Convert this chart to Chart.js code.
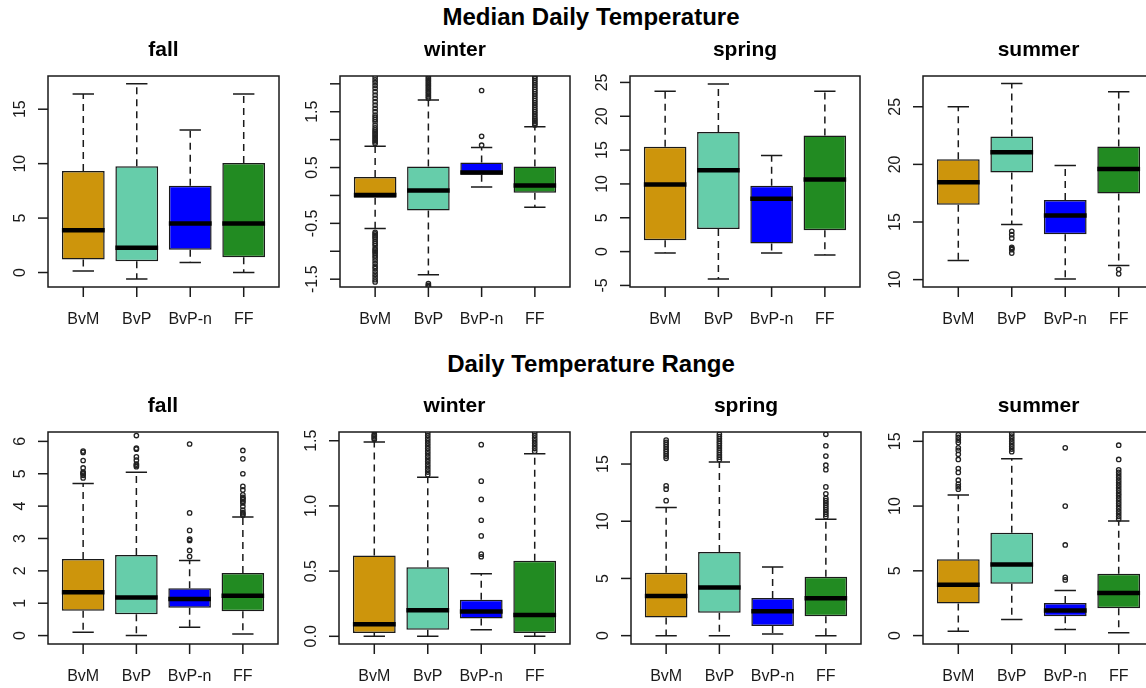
<!DOCTYPE html>
<html lang="en">
<head>
<meta charset="UTF-8">
<title>Median Daily Temperature / Daily Temperature Range</title>
<script src="https://cdn.jsdelivr.net/npm/chart.js"></script>
<style>
  html, body { margin: 0; padding: 0; background: #fff; }
  body { width: 1146px; height: 688px; overflow: hidden; position: relative;
         font-family: Arial, "Liberation Sans", Helvetica, sans-serif; }
  .main-title { position: absolute; left: 0; width: 1182px; text-align: center;
                font-weight: bold; font-size: 24px; line-height: 24px; color: #000; }
</style>
</head>
<body>
<script>
// ---- data ----
const categories = ['BvM', 'BvP', 'BvP-n', 'FF'];
const seasons = ['fall', 'winter', 'spring', 'summer'];
const rowTitles = ['Median Daily Temperature', 'Daily Temperature Range'];

// five-number summaries per group: [lower whisker, Q1, median, Q3, upper whisker]
const medFall   = [[0.15, 1.2, 3.89, 9.32, 16.4], [-0.59, 1.04, 2.27, 9.75, 17.33], [0.92, 2.08, 4.5, 7.97, 13.1], [0.0, 1.41, 4.5, 10.06, 16.4]];
const medWinter = [[-0.59, -0.04, 0.01, 0.33, 0.88], [-1.42, -0.27, 0.09, 0.52, 1.71], [0.15, 0.37, 0.41, 0.59, 0.86], [-0.21, 0.05, 0.18, 0.52, 1.23]];
const medSpring = [[-0.2, 1.68, 9.92, 15.49, 23.68], [-4.05, 3.35, 12.04, 17.66, 24.77], [-0.2, 1.18, 7.8, 9.72, 14.21], [-0.49, 3.16, 10.66, 17.17, 23.68]];
const medSummer = [[11.65, 16.49, 18.46, 20.45, 25.0], [14.78, 19.3, 21.06, 22.42, 27.03], [10.06, 13.94, 15.56, 16.9, 19.9], [11.22, 17.47, 19.6, 21.55, 26.3]];
const rngFall   = [[0.1, 0.77, 1.34, 2.37, 4.70], [0.0, 0.66, 1.18, 2.49, 5.05], [0.26, 0.86, 1.13, 1.46, 2.32], [0.05, 0.75, 1.23, 1.93, 3.66]];
const rngWinter = [[0.0, 0.026, 0.092, 0.62, 1.49], [0.0, 0.05, 0.20, 0.53, 1.22], [0.05, 0.136, 0.19, 0.28, 0.48], [0.0, 0.026, 0.164, 0.58, 1.40]];
const rngSpring = [[0.0, 1.58, 3.47, 5.49, 11.2], [0.0, 2.0, 4.2, 7.32, 15.17], [0.15, 0.85, 2.13, 3.3, 6.01], [0.0, 1.69, 3.27, 5.14, 10.18]];
const rngSummer = [[0.34, 2.48, 3.93, 5.9, 10.86], [1.24, 4.0, 5.48, 7.94, 13.65], [0.47, 1.5, 1.94, 2.51, 3.49], [0.21, 2.12, 3.28, 4.78, 8.84]];

// outliers per group
const medFallOut = [[], [], [], []];
const medWinterOut = [
  [0.93, 0.96, 0.99, 1.02, 1.05, 1.08, 1.11, 1.14, 1.17, 1.21, 1.26, 1.32, 1.36, 1.40, 1.44, 1.50, 1.56, 1.62, 1.68, 1.74, 1.80, 1.86, 1.92, 1.97, 2.02, 2.07, 2.12,
   -0.66, -0.69, -0.72, -0.75, -0.78, -0.82, -0.86, -0.90, -0.95, -0.98, -1.01, -1.04, -1.08, -1.12, -1.17, -1.22, -1.27, -1.31, -1.36, -1.41, -1.46, -1.51, -1.55],
  [1.74, 1.77, 1.80, 1.83, 1.86, 1.89, 1.92, 1.95, 1.98, 2.01, 2.04, 2.07, 2.10, 2.13, -1.58, -1.61, -1.63],
  [0.90, 1.06, 1.88],
  [1.26, 1.29, 1.32, 1.35, 1.38, 1.42, 1.46, 1.50, 1.54, 1.58, 1.62, 1.66, 1.70, 1.74, 1.78, 1.82, 1.86, 1.90, 1.94, 1.98, 2.02, 2.06, 2.10, 2.13]
];
const medSpringOut = [[], [], [], []];
const medSummerOut = [[], [14.2, 13.9, 13.6, 12.8, 12.7, 12.6, 12.3], [], [10.9, 10.5]];
const rngFallOut = [
  [4.87, 4.95, 5.0, 5.02, 5.05, 5.18, 5.41, 5.66, 5.70],
  [5.22, 5.26, 5.30, 5.42, 5.52, 5.76, 5.79, 6.18],
  [2.44, 2.63, 2.94, 2.98, 3.25, 3.79, 5.92],
  [3.72, 3.76, 3.80, 3.88, 3.99, 4.10, 4.15, 4.20, 4.24, 4.27, 4.35, 4.50, 4.61, 5.00, 5.46, 5.72]
];
const rngWinterOut = [
  [1.51, 1.52, 1.53, 1.54, 1.55, 1.57],
  [1.24, 1.26, 1.28, 1.30, 1.32, 1.34, 1.36, 1.38, 1.40, 1.42, 1.44, 1.46, 1.48, 1.50, 1.52, 1.54, 1.56],
  [0.61, 0.63, 0.77, 0.89, 1.05, 1.19, 1.47],
  [1.42, 1.44, 1.46, 1.48, 1.50, 1.52, 1.54, 1.56]
];
const rngSpringOut = [
  [11.8, 12.8, 13.1, 15.5, 15.7, 15.9, 16.1, 16.3, 16.5, 16.7, 16.9, 17.1],
  [15.4, 15.6, 15.8, 16.0, 16.2, 16.4, 16.6, 16.8, 17.0, 17.2, 17.4, 17.6],
  [],
  [10.4, 10.6, 10.8, 11.0, 11.2, 11.4, 11.6, 11.8, 12.0, 12.4, 13.0, 14.5, 14.9, 15.7, 16.6, 17.6]
];
const rngSummerOut = [
  [11.3, 11.5, 11.7, 12.0, 12.6, 12.9, 13.6, 14.0, 14.3, 14.5, 14.9, 15.1, 15.3, 15.5],
  [14.2, 14.4, 14.6, 14.8, 15.0, 15.2, 15.4, 15.6],
  [4.3, 4.5, 7.0, 10.0, 14.5],
  [9.0, 9.2, 9.4, 9.6, 9.8, 10.0, 10.2, 10.4, 10.6, 10.8, 11.0, 11.2, 11.4, 11.6, 11.8, 12.0, 12.2, 12.4, 12.6, 12.8, 13.6, 14.7]
];

// y axis limits and ticks
const medFallLim = [-1.33, 18.05],  medFallTicks = [0, 5, 10, 15],  medFallLabels = ['0', '5', '10', '15'];
const medWinterLim = [-1.64, 2.14], medWinterTicks = [-1.5, -1, -0.5, 0, 0.5, 1, 1.5, 2], medWinterLabels = ['-1.5', '', '-0.5', '', '0.5', '', '1.5', ''];
const medSpringLim = [-5.23, 25.95], medSpringTicks = [-5, 0, 5, 10, 15, 20, 25], medSpringLabels = ['-5', '0', '5', '10', '15', '20', '25'];
const medSummerLim = [9.36, 27.67], medSummerTicks = [10, 15, 20, 25], medSummerLabels = ['10', '15', '20', '25'];
const rngFallLim = [-0.26, 6.29],   rngFallTicks = [0, 1, 2, 3, 4, 5, 6], rngFallLabels = ['0', '1', '2', '3', '4', '5', '6'];
const rngWinterLim = [-0.059, 1.567], rngWinterTicks = [0, 0.5, 1, 1.5], rngWinterLabels = ['0.0', '0.5', '1.0', '1.5'];
const rngSpringLim = [-0.73, 17.8], rngSpringTicks = [0, 5, 10, 15], rngSpringLabels = ['0', '5', '10', '15'];
const rngSummerLim = [-0.65, 15.72], rngSummerTicks = [0, 5, 10, 15], rngSummerLabels = ['0', '5', '10', '15'];

// ---- styles / layout ----
const boxColors = ['#CD950C', '#66CDAA', '#0000FF', '#228B22'];
const inkColor = '#1a1a1a';
const rowGeom = [
  { top: 30, h: 310, padT: 46, padB: 53 },
  { top: 385, h: 303, padT: 47, padB: 44 }
];
const plotLeft = [[48, 340, 630, 923], [48, 339, 631, 923]];
const plotWidth = [[231, 230, 230, 231], [230, 231, 230, 231]];
const titleTops = [5, 352];

rowTitles.forEach((t, i) => {
  const d = document.createElement('div');
  d.className = 'main-title';
  d.style.top = titleTops[i] + 'px';
  d.textContent = t;
  document.body.appendChild(d);
});

const panels = [
  { row: 0, col: 0, stats: medFall, out: medFallOut, lim: medFallLim, ticks: medFallTicks, labels: medFallLabels },
  { row: 0, col: 1, stats: medWinter, out: medWinterOut, lim: medWinterLim, ticks: medWinterTicks, labels: medWinterLabels },
  { row: 0, col: 2, stats: medSpring, out: medSpringOut, lim: medSpringLim, ticks: medSpringTicks, labels: medSpringLabels },
  { row: 0, col: 3, stats: medSummer, out: medSummerOut, lim: medSummerLim, ticks: medSummerTicks, labels: medSummerLabels },
  { row: 1, col: 0, stats: rngFall, out: rngFallOut, lim: rngFallLim, ticks: rngFallTicks, labels: rngFallLabels },
  { row: 1, col: 1, stats: rngWinter, out: rngWinterOut, lim: rngWinterLim, ticks: rngWinterTicks, labels: rngWinterLabels },
  { row: 1, col: 2, stats: rngSpring, out: rngSpringOut, lim: rngSpringLim, ticks: rngSpringTicks, labels: rngSpringLabels },
  { row: 1, col: 3, stats: rngSummer, out: rngSummerOut, lim: rngSummerLim, ticks: rngSummerTicks, labels: rngSummerLabels }
];

// whiskers, staples, medians, frame, axes and titles in R boxplot style
const boxPlotDecor = {
  id: 'boxPlotDecor',
  beforeDatasetsDraw(chart, args, opts) {
    const { ctx, chartArea: a, scales: { x, y } } = chart;
    ctx.save();
    ctx.beginPath();
    ctx.rect(a.left, a.top, a.width, a.height);
    ctx.clip();
    ctx.strokeStyle = inkColor;
    ctx.lineWidth = 1.5;
    opts.stats.forEach((s, i) => {
      const cx = x.getPixelForValue(i + 1);
      const half = x.getPixelForValue(i + 1.2) - cx;
      ctx.setLineDash([7, 5]);
      ctx.beginPath();
      ctx.moveTo(cx, y.getPixelForValue(s[3]));
      ctx.lineTo(cx, y.getPixelForValue(s[4]));
      ctx.moveTo(cx, y.getPixelForValue(s[1]));
      ctx.lineTo(cx, y.getPixelForValue(s[0]));
      ctx.stroke();
      ctx.setLineDash([]);
      ctx.beginPath();
      [s[0], s[4]].forEach(v => {
        const py = y.getPixelForValue(v);
        ctx.moveTo(cx - half, py);
        ctx.lineTo(cx + half, py);
      });
      ctx.stroke();
    });
    ctx.restore();
  },
  afterDatasetsDraw(chart, args, opts) {
    const { ctx, chartArea: a, scales: { x, y } } = chart;
    ctx.save();
    // medians
    ctx.strokeStyle = '#000';
    ctx.lineWidth = 4.5;
    opts.stats.forEach((s, i) => {
      const x0 = x.getPixelForValue(i + 0.6), x1 = x.getPixelForValue(i + 1.4);
      const py = y.getPixelForValue(s[2]);
      ctx.beginPath();
      ctx.moveTo(x0, py);
      ctx.lineTo(x1, py);
      ctx.stroke();
    });
    // frame
    ctx.strokeStyle = inkColor;
    ctx.lineWidth = 1.5;
    ctx.strokeRect(a.left, a.top, a.width, a.height);
    // x axis ticks + labels
    ctx.fillStyle = inkColor;
    ctx.font = '16px Arial, "Liberation Sans", sans-serif';
    ctx.textAlign = 'center';
    ctx.textBaseline = 'alphabetic';
    x.ticks.forEach((t, i) => {
      const px = x.getPixelForValue(t.value);
      ctx.beginPath();
      ctx.moveTo(px, a.bottom);
      ctx.lineTo(px, a.bottom + 10);
      ctx.stroke();
      ctx.fillText(categories[i], px, a.bottom + 37);
    });
    // y axis ticks + rotated labels
    y.ticks.forEach((t, i) => {
      const py = y.getPixelForValue(t.value);
      ctx.beginPath();
      ctx.moveTo(a.left - 10, py);
      ctx.lineTo(a.left, py);
      ctx.stroke();
      const lab = opts.labels[i];
      if (lab) {
        ctx.save();
        ctx.translate(a.left - 23, py);
        ctx.rotate(-Math.PI / 2);
        ctx.fillText(lab, 0, 0);
        ctx.restore();
      }
    });
    // panel title
    ctx.font = 'bold 21px Arial, "Liberation Sans", sans-serif';
    ctx.fillStyle = '#000';
    ctx.fillText(opts.title, (a.left + a.right) / 2, a.top - 20);
    ctx.restore();
  }
};

panels.forEach(p => {
  const g = rowGeom[p.row];
  const L = plotLeft[p.row][p.col], W = plotWidth[p.row][p.col];
  const canvas = document.createElement('canvas');
  canvas.width = W + 70;
  canvas.height = g.h;
  canvas.style.position = 'absolute';
  canvas.style.left = (L - 60) + 'px';
  canvas.style.top = g.top + 'px';
  document.body.appendChild(canvas);

  new Chart(canvas, {
    type: 'bar',
    data: {
      datasets: [
        {
          type: 'scatter',
          data: p.out.flatMap((vals, i) => vals.map(v => ({ x: i + 1, y: v }))),
          pointStyle: 'circle',
          pointRadius: 2.2,
          borderWidth: 1.3,
          borderColor: '#222',
          backgroundColor: 'rgba(0,0,0,0)',
          order: 1
        },
        {
          type: 'bar',
          data: p.stats.map((s, i) => ({ x: i + 1, y: [s[1], s[3]] })),
          backgroundColor: boxColors,
          borderColor: inkColor,
          borderWidth: 1.5,
          borderSkipped: false,
          barPercentage: 0.8,
          categoryPercentage: 1,
          order: 2
        }
      ]
    },
    options: {
      responsive: false,
      animation: false,
      events: [],
      layout: { padding: { left: 60, right: 10, top: g.padT, bottom: g.padB } },
      plugins: {
        legend: { display: false },
        tooltip: { enabled: false },
        boxPlotDecor: { stats: p.stats, labels: p.labels, title: seasons[p.col] }
      },
      scales: {
        x: {
          type: 'linear', display: false, offset: false, min: 0.34, max: 4.66,
          afterBuildTicks: s => { s.ticks = categories.map((c, i) => ({ value: i + 1 })); }
        },
        y: {
          type: 'linear', display: false, beginAtZero: false, min: p.lim[0], max: p.lim[1],
          afterBuildTicks: s => { s.ticks = p.ticks.map(v => ({ value: v })); }
        }
      }
    },
    plugins: [boxPlotDecor]
  });
});
</script>
</body>
</html>
